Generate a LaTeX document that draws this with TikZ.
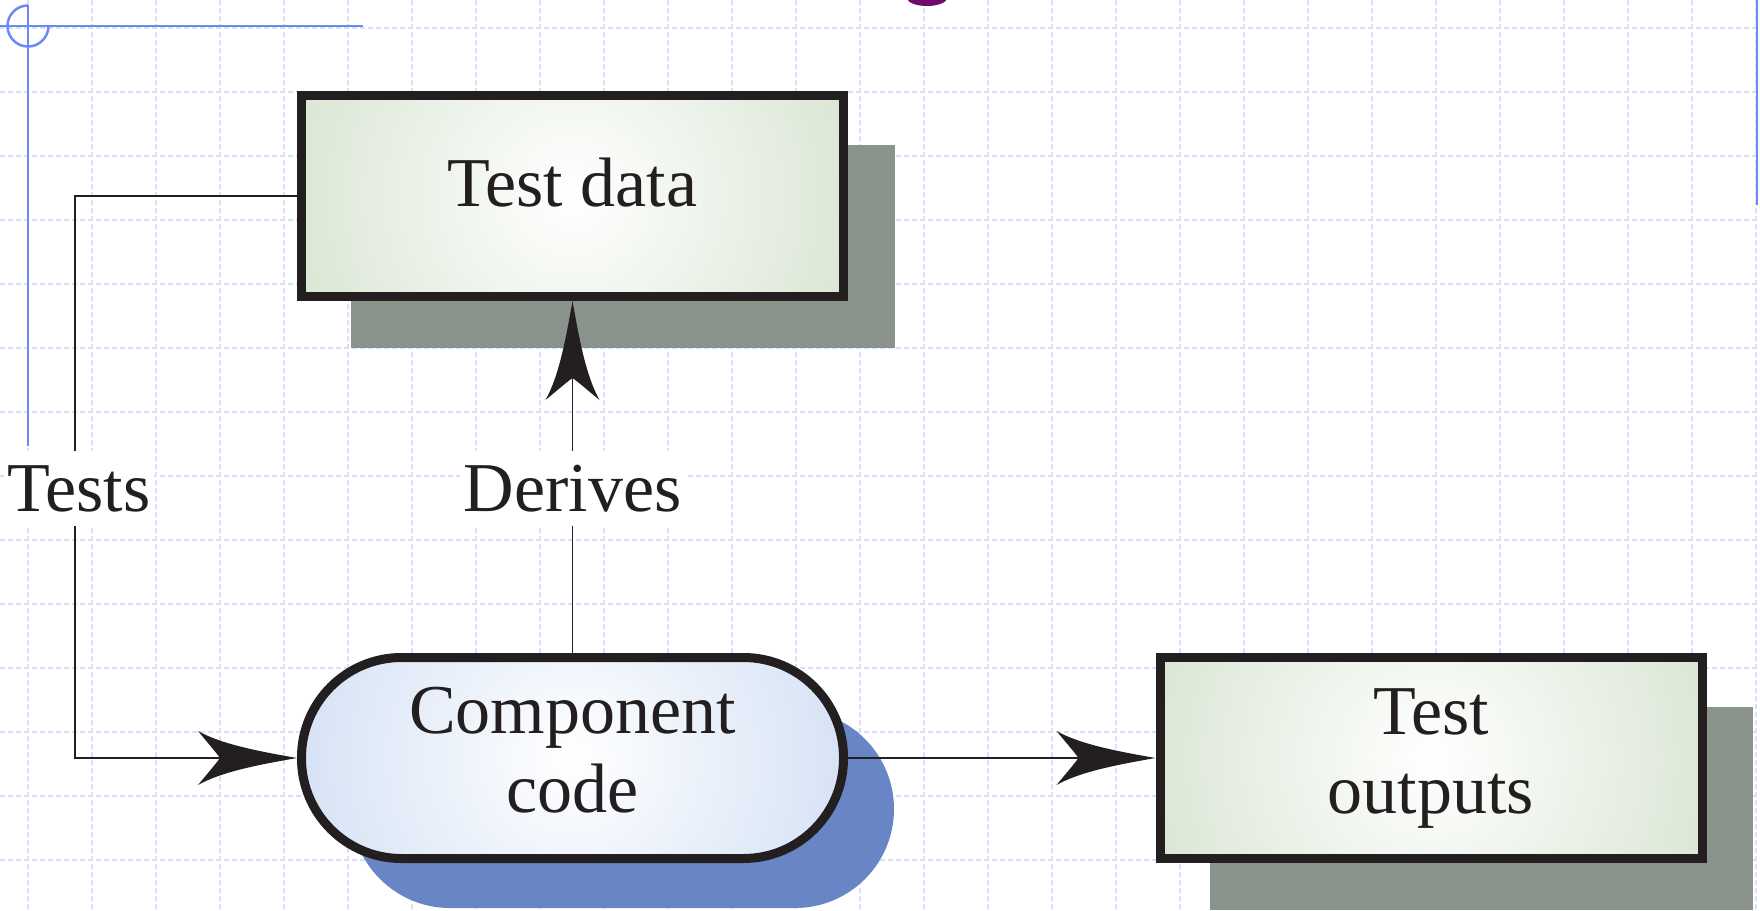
\documentclass[tikz,border=0pt]{standalone}
\usepackage{fontspec}
\setmainfont{Liberation Serif}
\usetikzlibrary{arrows.meta}
\definecolor{ink}{RGB}{35,31,32}
\definecolor{gridc}{RGB}{216,223,251}
\definecolor{frameb}{RGB}{108,138,245}
\definecolor{shgray}{RGB}{138,147,139}
\definecolor{shblue}{RGB}{104,134,197}
\definecolor{tdgreen}{RGB}{208,223,200}
\definecolor{ccblue}{RGB}{200,217,242}
\definecolor{purp}{RGB}{110,12,110}
\pgfdeclarearrow{
  name = Swept,
  setup code = {
    \pgfarrowssettipend{0pt}
    \pgfarrowssetbackend{-99pt}
    \pgfarrowssetlineend{-75pt}
    \pgfarrowshullpoint{0pt}{0pt}
    \pgfarrowshullpoint{-99pt}{27pt}
    \pgfarrowshullpoint{-99pt}{-27pt}
  },
  drawing code = {
    \pgfpathmoveto{\pgfqpoint{0pt}{0pt}}
    \pgfpathcurveto{\pgfqpoint{-40pt}{7pt}}{\pgfqpoint{-76pt}{14pt}}{\pgfqpoint{-99pt}{27pt}}
    \pgfpathcurveto{\pgfqpoint{-90pt}{16pt}}{\pgfqpoint{-82pt}{7pt}}{\pgfqpoint{-77pt}{0pt}}
    \pgfpathcurveto{\pgfqpoint{-82pt}{-7pt}}{\pgfqpoint{-90pt}{-16pt}}{\pgfqpoint{-99pt}{-27pt}}
    \pgfpathcurveto{\pgfqpoint{-76pt}{-14pt}}{\pgfqpoint{-40pt}{-7pt}}{\pgfqpoint{0pt}{0pt}}
    \pgfpathclose
    \pgfusepathqfill
  }
}
\tikzset{
  gridline/.style={draw=gridc, line width=1.1pt, dash pattern=on 5pt off 3pt},
  frameline/.style={draw=frameb, line width=2.5pt},
  boxnode/.style={draw=ink, line width=9pt, minimum width=542pt, minimum height=201pt, inner sep=0pt,
    path picture={\shade[inner color=white, outer color=#1] (path picture bounding box.center) circle (370pt);}},
  txt/.style={font=\fontsize{70}{79}\selectfont, text=ink, inner sep=0pt},
  lab/.style={txt, fill=white, inner xsep=4pt, inner ysep=14pt},
  conn/.style={draw=ink, line width=1.5pt, -{Swept}}
}
\begin{document}
\begin{tikzpicture}[x=1pt,y=-1pt]
\useasboundingbox (0,0) rectangle (1760,910);
\fill[white] (0,0) rectangle (1760,910);
\begin{scope}
\clip (0,0) rectangle (1760,910);
% grid
\foreach \k in {0,...,27} \draw[gridline] (28+64*\k,0) -- (28+64*\k,910);
\foreach \k in {0,...,13} \draw[gridline] (0,28+64*\k) -- (1760,28+64*\k);
% frame marks
\draw[frameline] (0,26) -- (363,26);
\draw[frameline] (28,5) -- (28,446);
\draw[frameline] (48.5,26) arc[start angle=0, end angle=270, radius=20.5];
\draw[frameline] (1757,0) -- (1757,205);
\fill[purp] (927,-2) ellipse (20 and 8);
% shadows
\fill[shgray] (351,145) rectangle (895,348);
\fill[shgray] (1210,707) rectangle (1753,910);
\fill[shblue, rounded corners=99pt] (351,710) rectangle (894,908);
% nodes
\node[boxnode=tdgreen] (td) at (572.5,196) {};
\node[boxnode=ccblue, rounded corners=100pt] (cc) at (572.5,758) {};
\node[boxnode=tdgreen] (to) at (1431,758) {};
% texts
\node[txt, anchor=base] (tdt) at (572.5,206) {Test data};
\node[txt, align=center] (cct) at (572.5,750) {Component\\code};
\node[txt, align=center] (tot) at (1431,759) {Test\\outputs};
% connectors
\coordinate (tl) at (75,196);
\coordinate (bl) at (75,758);
\draw[conn] (td.west) -- (tl) -- (bl) -- (cc.west);
\draw[conn] (cc.north) -- (td.south);
\draw[conn] (cc.east) -- (to.west);
\node[lab, anchor=base] (tests) at (79,511) {Tests};
\node[lab, anchor=base] (der) at (572.5,511) {Derives};
\end{scope}
\end{tikzpicture}
\end{document}
